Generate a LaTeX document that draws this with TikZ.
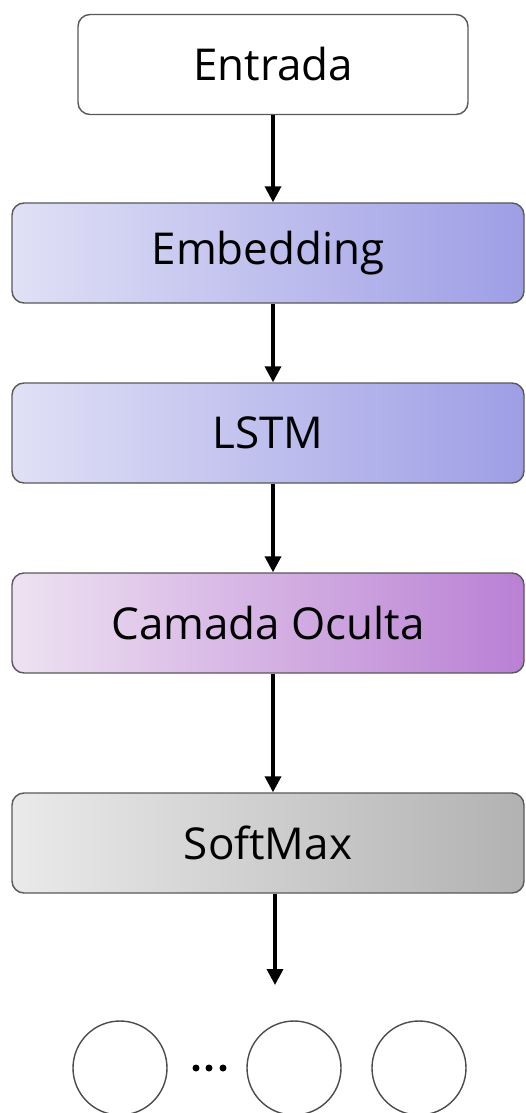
\documentclass[tikz,border=0pt]{standalone}
\usepackage{fontspec}
\setmainfont{Open Sans}
\usetikzlibrary{arrows.meta}
\definecolor{embedleft}{RGB}{224,224,246}
\definecolor{embedright}{RGB}{158,158,230}
\definecolor{hiddenleft}{RGB}{238,226,242}
\definecolor{hiddenright}{RGB}{186,128,212}
\definecolor{softleft}{RGB}{234,234,234}
\definecolor{softright}{RGB}{178,178,178}
\tikzset{
  layer/.style={
    rectangle,
    rounded corners=0.24cm,
    draw=black!65,
    line width=0.8pt,
    minimum width=10.24cm,
    minimum height=2cm,
    font=\fontsize{25}{30}\selectfont
  },
  flow/.style={
    -{Triangle[length=0.32cm,width=0.32cm]},
    line width=2pt
  },
  unit/.style={
    circle,
    draw=black!70,
    line width=0.8pt,
    minimum size=1.88cm,
    inner sep=0pt
  }
}

\begin{document}
\begin{tikzpicture}
  \useasboundingbox (0,0) rectangle (10.52,-22.26);
  \node[layer, fill=white, minimum width=7.8cm] (entrada) at (5.46,-1.29) {Entrada};
  \node[layer, left color=embedleft, right color=embedright] (embed) at (5.36,-5.06) {Embedding};
  \node[layer, left color=embedleft, right color=embedright] (lstm) at (5.36,-8.66) {LSTM};
  \node[layer, left color=hiddenleft, right color=hiddenright] (hidden) at (5.36,-12.46) {Camada Oculta};
  \node[layer, left color=softleft, right color=softright] (softmax) at (5.36,-16.86) {SoftMax};
  \coordinate (out) at (5.5,-19.7);

  \draw[flow] (entrada.south) -- (entrada.south |- embed.north);
  \draw[flow] (entrada.south |- embed.south) -- (entrada.south |- lstm.north);
  \draw[flow] (entrada.south |- lstm.south) -- (entrada.south |- hidden.north);
  \draw[flow] (entrada.south |- hidden.south) -- (entrada.south |- softmax.north);
  \draw[flow] (out |- softmax.south) -- (out);

  % output units
  \node[unit] (y1) at (2.4,-21.36) {};
  \node[unit] (y2) at (5.88,-21.36) {};
  \node[unit] (y3) at (8.38,-21.36) {};
  \foreach \x in {3.92,4.18,4.46} {
    \fill (\x,-21.36) circle (0.07);
  }
\end{tikzpicture}
\end{document}
